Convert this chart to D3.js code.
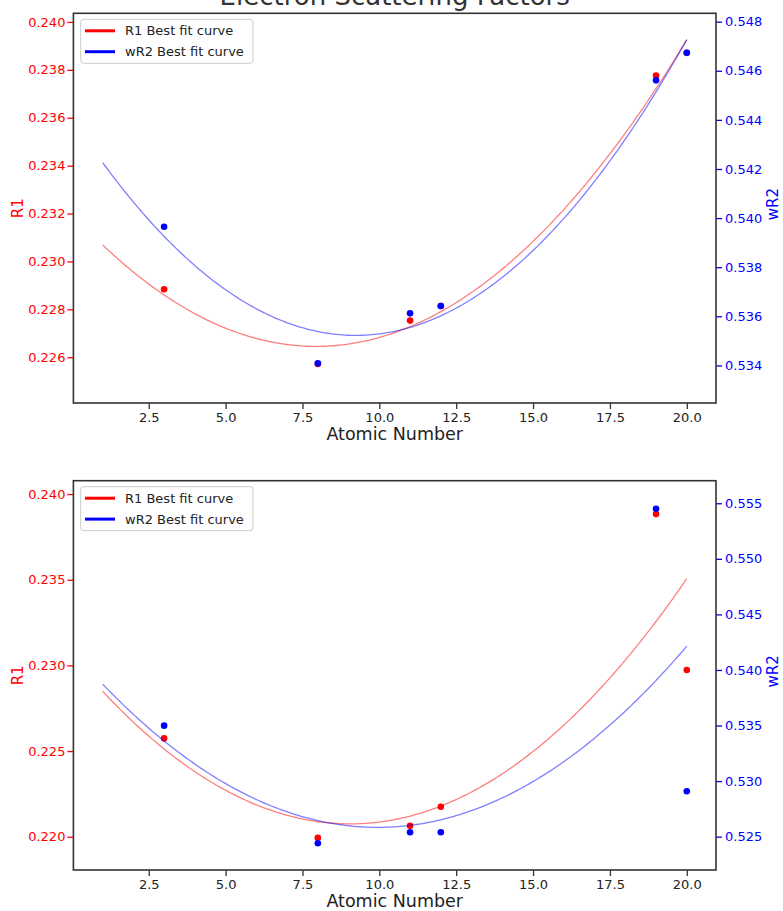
<!DOCTYPE html>
<html>
<head>
<meta charset="utf-8">
<script src="https://cdn.jsdelivr.net/npm/d3@7/dist/d3.min.js"></script>
<style>
  html, body { margin: 0; padding: 0; background: #fff; }
  svg { display: block; font-family: "DejaVu Sans", sans-serif; }
</style>
</head>
<body>
<svg id="chart" width="783" height="911"></svg>
<script>
// ---- data ----
const atomicNumbers = [3, 8, 11, 12, 19, 20];
const r1Top    = [0.22884, 0.22572, 0.22753, 0.22814, 0.23776, 0.23871];
const wr2Top   = [0.53965, 0.53409, 0.53612, 0.53642, 0.54561, 0.54673];
const r1Bottom = [0.22574, 0.21994, 0.22064, 0.22175, 0.23883, 0.22973];
const wr2Bottom= [0.53499, 0.52441, 0.52540, 0.52540, 0.55451, 0.52908];

const xTicks = [2.5, 5.0, 7.5, 10.0, 12.5, 15.0, 17.5, 20.0];
const r1TicksTop   = [0.226, 0.228, 0.230, 0.232, 0.234, 0.236, 0.238, 0.240];
const wr2TicksTop  = [0.534, 0.536, 0.538, 0.540, 0.542, 0.544, 0.546, 0.548];
const r1TicksBottom  = [0.220, 0.225, 0.230, 0.235, 0.240];
const wr2TicksBottom = [0.525, 0.530, 0.535, 0.540, 0.545, 0.550, 0.555];

const fitRange = [1, 20];
const titleText = "Electron Scattering Factors";
const xLabel = "Atomic Number";
const legendLabels = ["R1 Best fit curve", "wR2 Best fit curve"];

// ---- quadratic least-squares fit (like np.polyfit deg 2) ----
function polyfit2(xs, ys) {
  let S = [0,0,0,0,0], T = [0,0,0];
  xs.forEach((x, i) => {
    for (let k = 0; k < 5; k++) S[k] += Math.pow(x, k);
    for (let k = 0; k < 3; k++) T[k] += ys[i] * Math.pow(x, k);
  });
  const A = [[S[0],S[1],S[2],T[0]],[S[1],S[2],S[3],T[1]],[S[2],S[3],S[4],T[2]]];
  for (let i = 0; i < 3; i++) {
    let p = i;
    for (let r = i+1; r < 3; r++) if (Math.abs(A[r][i]) > Math.abs(A[p][i])) p = r;
    [A[i], A[p]] = [A[p], A[i]];
    for (let r = 0; r < 3; r++) {
      if (r === i) continue;
      const f = A[r][i] / A[i][i];
      for (let c = i; c < 4; c++) A[r][c] -= f * A[i][c];
    }
  }
  const c = A.map((row, i) => row[3] / row[i]);
  return x => c[0] + c[1]*x + c[2]*x*x;
}

const svg = d3.select("#chart");
const plotLeft = 73.4, plotRight = 716;
const x = d3.scaleLinear().domain([0.05, 20.95]).range([plotLeft, plotRight]);

// title (cut off at the top edge, as in the reference)
svg.append("text")
  .attr("x", (plotLeft + plotRight) / 2).attr("y", 5)
  .attr("text-anchor", "middle").attr("font-size", 26).attr("fill", "#333")
  .text(titleText);

const panels = [
  { top: 13.3, bottom: 403, r1: r1Top, wr2: wr2Top,
    yLdom: [0.22409, 0.24036], yRdom: [0.53247, 0.54834],
    lTicks: r1TicksTop, rTicks: wr2TicksTop, fmt: ".3f" },
  { top: 480.7, bottom: 870, r1: r1Bottom, wr2: wr2Bottom,
    yLdom: [0.21806, 0.24078], yRdom: [0.52200, 0.55703],
    lTicks: r1TicksBottom, rTicks: wr2TicksBottom, fmt: ".3f" }
];

panels.forEach(p => {
  const yL = d3.scaleLinear().domain(p.yLdom).range([p.bottom, p.top]);
  const yR = d3.scaleLinear().domain(p.yRdom).range([p.bottom, p.top]);
  const g = svg.append("g");

  const gx = g.append("g").attr("transform", `translate(0,${p.bottom})`)
    .call(d3.axisBottom(x).tickValues(xTicks).tickFormat(d3.format(".1f")).tickSize(6).tickPadding(3.5));
  gx.select(".domain").remove();
  gx.selectAll("line").attr("stroke", "#333").attr("stroke-width", 1.3);
  gx.selectAll("text").attr("font-size", 13).attr("fill", "#222").attr("font-family", "DejaVu Sans");

  const gl = g.append("g").attr("transform", `translate(${plotLeft},0)`)
    .call(d3.axisLeft(yL).tickValues(p.lTicks).tickFormat(d3.format(p.fmt)).tickSize(6).tickPadding(2));
  gl.select(".domain").remove();
  gl.selectAll("line").attr("stroke", "red").attr("stroke-width", 1.3);
  gl.selectAll("text").attr("font-size", 13).attr("fill", "red").attr("font-family", "DejaVu Sans");

  const gr = g.append("g").attr("transform", `translate(${plotRight},0)`)
    .call(d3.axisRight(yR).tickValues(p.rTicks).tickFormat(d3.format(p.fmt)).tickSize(6).tickPadding(3));
  gr.select(".domain").remove();
  gr.selectAll("line").attr("stroke", "blue").attr("stroke-width", 1.3);
  gr.selectAll("text").attr("font-size", 13).attr("fill", "blue").attr("font-family", "DejaVu Sans");

  const midY = (p.top + p.bottom) / 2;
  g.append("text").attr("transform", `translate(18,${midY}) rotate(-90)`)
    .attr("text-anchor", "middle").attr("dominant-baseline", "central")
    .attr("font-size", 15).attr("fill", "red").text("R1");
  g.append("text").attr("transform", `translate(773,${midY - 4}) rotate(-90)`)
    .attr("text-anchor", "middle").attr("dominant-baseline", "central")
    .attr("font-size", 15).attr("fill", "blue").text("wR2");
  g.append("text").attr("x", (plotLeft + plotRight) / 2).attr("y", p.bottom + 36.5)
    .attr("text-anchor", "middle").attr("font-size", 17.5).attr("fill", "#222").text(xLabel);

  const clipId = "clip" + Math.round(p.top);
  svg.append("clipPath").attr("id", clipId).append("rect")
    .attr("x", plotLeft).attr("y", p.top).attr("width", plotRight - plotLeft).attr("height", p.bottom - p.top);
  const plot = g.append("g").attr("clip-path", `url(#${clipId})`);

  const xs = d3.range(0, 201).map(i => fitRange[0] + (fitRange[1] - fitRange[0]) * i / 200);
  const series = [
    { vals: p.r1, y: yL, color: "red" },
    { vals: p.wr2, y: yR, color: "blue" }
  ];
  series.forEach(s => {
    const f = polyfit2(atomicNumbers, s.vals);
    plot.append("path")
      .datum(xs)
      .attr("fill", "none").attr("stroke", s.color).attr("stroke-opacity", 0.5).attr("stroke-width", 1.3)
      .attr("d", d3.line().x(d => x(d)).y(d => s.y(f(d))));
    plot.selectAll(null).data(atomicNumbers).enter().append("circle")
      .attr("cx", d => x(d)).attr("cy", (d, i) => s.y(s.vals[i]))
      .attr("r", 3.3).attr("fill", s.color);
  });

  g.append("rect").attr("x", plotLeft).attr("y", p.top)
    .attr("width", plotRight - plotLeft).attr("height", p.bottom - p.top)
    .attr("fill", "none").attr("stroke", "#333").attr("stroke-width", 1.6);

  const lg = g.append("g").attr("transform", `translate(0,${p.top})`);
  lg.append("rect").attr("x", 80.7).attr("y", 6).attr("width", 172.3).attr("height", 44)
    .attr("rx", 3).attr("fill", "#fff").attr("fill-opacity", 0.8)
    .attr("stroke", "#ccc").attr("stroke-width", 1);
  ["red", "blue"].forEach((c, i) => {
    const yy = 17.5 + i * 20.9;
    lg.append("line").attr("x1", 85).attr("x2", 115).attr("y1", yy).attr("y2", yy)
      .attr("stroke", c).attr("stroke-width", 3);
    lg.append("text").attr("x", 125).attr("y", yy + 4.6)
      .attr("font-size", 13).attr("fill", "#222").text(legendLabels[i]);
  });
});
</script>
</body>
</html>
